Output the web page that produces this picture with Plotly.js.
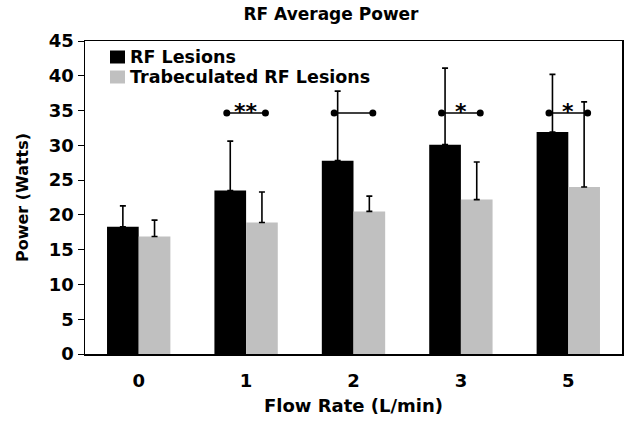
<!DOCTYPE html>
<html>
<head>
<meta charset="utf-8">
<script src="https://cdn.plot.ly/plotly-3.0.1.min.js"></script>
<style>html,body{margin:0;padding:0;background:#fff;}#chart{width:626px;height:423px;}</style>
</head>
<body>
<div id="chart"></div>
<script>
// ---- data ----
const categories = ['0', '1', '2', '3', '5'];
const seriesNames = ['RF Lesions', 'Trabeculated RF Lesions'];
const seriesColors = ['#000000', '#c0c0c0'];
const rfLesions = [18.3, 23.5, 27.8, 30.1, 31.9];
const rfLesionsErr = [3.0, 7.1, 10.0, 11.0, 8.3];
const trabLesions = [16.9, 18.9, 20.5, 22.2, 24.0];
const trabLesionsErr = [2.35, 4.4, 2.2, 5.4, 12.25];
const sigGroups = [1, 2, 3, 4];          // category indices with a comparison bracket
const sigLabels = ['**', '', '*', '*'];  // marks above each bracket
const sigLevel = 34.65;
const yTicks = [0, 5, 10, 15, 20, 25, 30, 35, 40, 45];

// ---- styling ----
const FONT = 'DejaVu Sans, Verdana, sans-serif';
const BARGAP = 0.41;
const halfOffset = 0.18;
const idx = categories.map((c, i) => i);
const W = 626, H = 423;
const M = {l: 85, r: 4, t: 41, b: 69};
const PW = W - M.l - M.r, PH = H - M.t - M.b;

const traces = [
  {
    type: 'bar', name: seriesNames[0], x: idx, y: rfLesions, showlegend: false,
    marker: {color: seriesColors[0]},
    error_y: {type: 'data', array: rfLesionsErr, symmetric: false, arrayminus: rfLesions.map(() => 0),
              color: '#000', thickness: 1.6, width: 3}
  },
  {
    type: 'bar', name: seriesNames[1], x: idx, y: trabLesions, showlegend: false,
    marker: {color: seriesColors[1]},
    error_y: {type: 'data', array: trabLesionsErr, symmetric: false, arrayminus: trabLesions.map(() => 0),
              color: '#000', thickness: 1.6, width: 3}
  }
];

// brackets
const bx = [], by = [];
sigGroups.forEach(g => { bx.push(g - halfOffset, g + halfOffset, null); by.push(sigLevel, sigLevel, null); });
traces.push({
  type: 'scatter', mode: 'lines+markers', x: bx, y: by, showlegend: false, hoverinfo: 'skip',
  line: {color: '#000', width: 1.6}, marker: {color: '#000', size: 7}
});

const annotations = sigGroups.map((g, i) => ({
  x: g, y: sigLevel, xref: 'x', yref: 'y', text: sigLabels[i], showarrow: false,
  yanchor: 'bottom', yshift: -13, font: {family: FONT, size: 22, color: '#000', weight: 'bold'}
}));

// custom legend (square right next to the text, as in the reference)
const shapes = [];
const legX0 = 110, legSq = 15, legRow0 = 57, legStep = 20;
seriesNames.forEach((name, i) => {
  const cy = legRow0 + i * legStep;
  shapes.push({
    type: 'rect', xref: 'paper', yref: 'paper',
    x0: (legX0 - M.l) / PW, x1: (legX0 + legSq - M.l) / PW,
    y0: 1 - (cy + 6.5 - M.t) / PH, y1: 1 - (cy - 6.5 - M.t) / PH,
    fillcolor: seriesColors[i], line: {width: 0}
  });
  annotations.push({
    xref: 'paper', yref: 'paper', x: (legX0 + legSq + 3 - M.l) / PW, y: 1 - (cy - M.t) / PH,
    xanchor: 'left', yanchor: 'middle', text: name, showarrow: false,
    font: {family: FONT, size: 17.5, color: '#000', weight: 'bold'}
  });
});

const layout = {
  width: W, height: H,
  margin: M,
  paper_bgcolor: '#fff', plot_bgcolor: '#fff',
  font: {family: FONT, color: '#000', weight: 'bold'},
  title: {text: 'RF Average Power', x: 331 / W, xref: 'container', xanchor: 'center',
          y: 1 - 14 / H, yref: 'container', yanchor: 'middle',
          font: {family: FONT, size: 17, color: '#000', weight: 'bold'}},
  barmode: 'group', bargap: BARGAP, bargroupgap: 0,
  xaxis: {
    range: [-0.5, categories.length - 0.5], tickvals: idx, ticktext: categories,
    showline: true, linecolor: '#000', linewidth: 1.5, mirror: true, ticks: '',
    showgrid: false, zeroline: false, ticklabelstandoff: 10,
    tickfont: {family: FONT, size: 18, color: '#000', weight: 'bold'},
    title: {text: 'Flow Rate (L/min)', standoff: 9, font: {family: FONT, size: 18, color: '#000', weight: 'bold'}}
  },
  yaxis: {
    range: [0, 45], tickvals: yTicks, showline: true, linecolor: '#000', linewidth: 1.5, mirror: true,
    ticks: 'outside', ticklen: 6, tickcolor: '#000', tickwidth: 1, showgrid: false, zeroline: false,
    tickfont: {family: FONT, size: 18, color: '#000', weight: 'bold'},
    title: {text: 'Power (Watts)', standoff: 16, font: {family: FONT, size: 16, color: '#000', weight: 'bold'}}
  },
  shapes: shapes,
  annotations: annotations,
  showlegend: false
};

Plotly.newPlot('chart', traces, layout, {displayModeBar: false, staticPlot: true});
</script>
</body>
</html>
